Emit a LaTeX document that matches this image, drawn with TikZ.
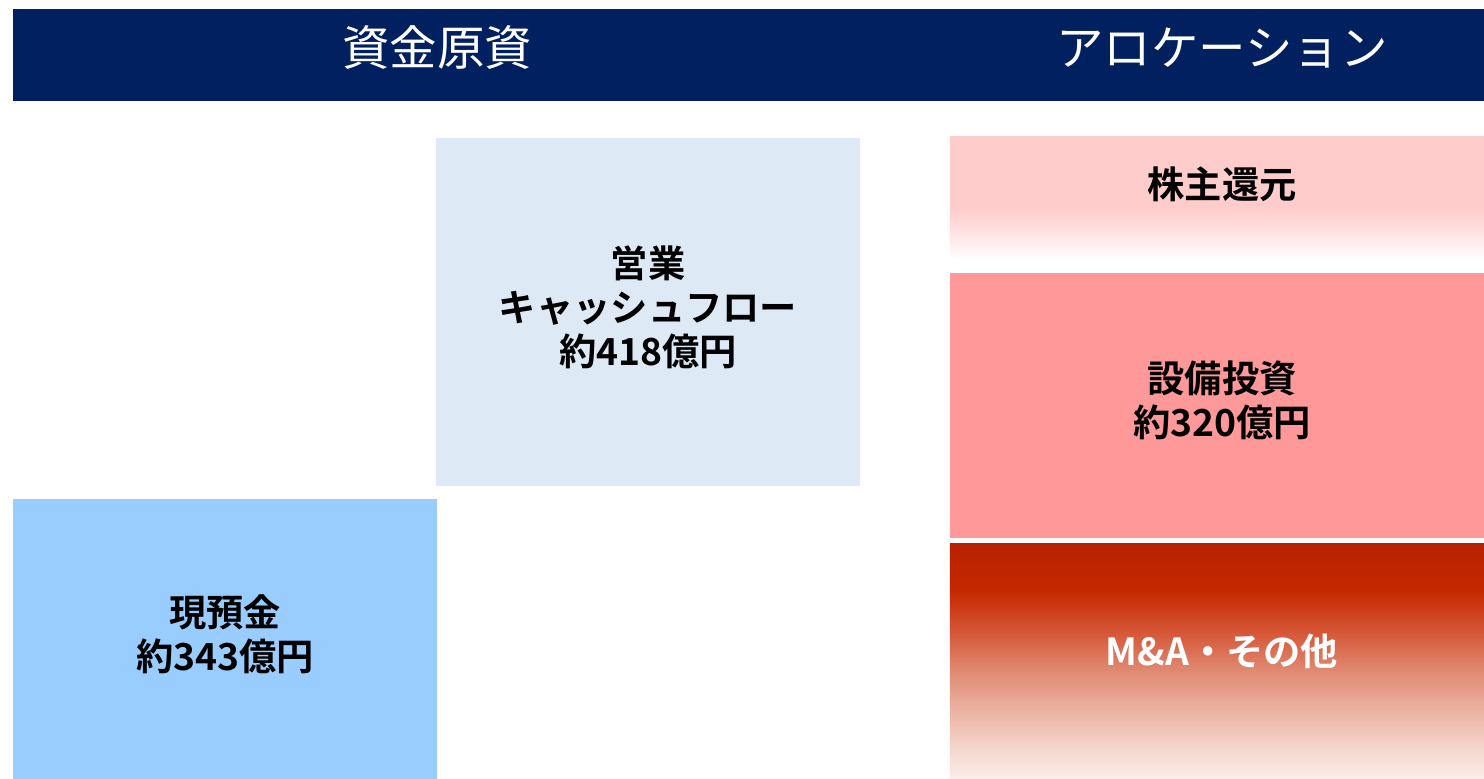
\documentclass[tikz,border=0pt]{standalone}
\usepackage{fontspec}
\setmainfont{Noto Sans CJK JP}[BoldFont={Noto Sans CJK JP Bold}]
\usetikzlibrary{positioning}
\definecolor{navyhead}{HTML}{002060}
\definecolor{cfblue}{HTML}{DDE9F5}
\definecolor{cashblue}{HTML}{99CCFF}
\definecolor{capexred}{HTML}{FF9999}
\definecolor{retpink}{HTML}{FFCCCC}
\definecolor{maA}{HTML}{B82200}
\definecolor{maB}{HTML}{C42800}
\definecolor{maC}{HTML}{D55535}
\definecolor{maD}{HTML}{E08A72}
\definecolor{maE}{HTML}{EBB3A2}
\definecolor{maF}{HTML}{F5D8CF}
\definecolor{maG}{HTML}{FBEEEA}
% path box is mapped onto 25bp..75bp of the shading
\pgfdeclareverticalshading{returnfade}{100bp}{color(0bp)=(white); color(28bp)=(white); color(47bp)=(retpink); color(100bp)=(retpink)}
\pgfdeclareverticalshading{mafade}{100bp}{color(0bp)=(maG); color(25bp)=(maG); color(31bp)=(maF); color(39.5bp)=(maE); color(48bp)=(maD); color(56.5bp)=(maC); color(65bp)=(maB); color(75bp)=(maA); color(100bp)=(maA)}
\tikzstyle{head}=[text=white, font=\fontsize{13.5}{16}\selectfont, align=center]
\tikzstyle{box}=[inner sep=0pt]
\tikzstyle{boxtext}=[inner sep=0pt, align=center, font=\bfseries\fontsize{10.6}{12.5}\selectfont]

\begin{document}
\begin{tikzpicture}[x=0.01cm,y=-0.01cm]
\useasboundingbox (0,0) rectangle (1484,779);
\node [box, fill=navyhead, minimum width=14.71cm, minimum height=0.92cm] (bar) at (748.5,55) {};
\node [head] (src) at (437,48) {資金原資};
\node [head] (alloc) at (1222,48) {アロケーション};
% sources
\node [box, fill=cfblue, minimum width=4.24cm, minimum height=3.48cm] (cf) at (648,312) {};
\node [boxtext] (cftext) at ([yshift=0.05cm]cf) {営業\\キャッシュフロー\\約418億円};
\node [box, fill=cashblue, minimum width=4.24cm, minimum height=2.80cm] (cash) at (225,639) {};
\node [boxtext] (cashtext) at ([yshift=0.05cm]cash) {現預金\\約343億円};
% allocation
\node [box, shading=returnfade, minimum width=5.34cm, minimum height=1.31cm] (ret) at (1217,202.5) {};
\node [boxtext] (rettext) at (1222,184) {株主還元};
\node [box, fill=capexred, minimum width=5.34cm, minimum height=2.65cm] (capex) at (1217,405.5) {};
\node [boxtext] (capextext) at ([xshift=0.05cm,yshift=0.05cm]capex) {設備投資\\約320億円};
\node [box, shading=mafade, minimum width=5.34cm, minimum height=2.35cm] (ma) at (1217,661.5) {};
\node [boxtext, text=white] (matext) at (1222,651) {M\&A・その他};
\end{tikzpicture}
\end{document}
